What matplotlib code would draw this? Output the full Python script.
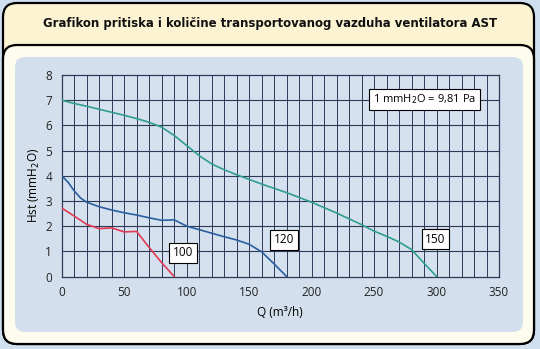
import matplotlib
matplotlib.use("Agg")
import matplotlib.pyplot as plt
from matplotlib import font_manager
from matplotlib.patches import FancyBboxPatch

# fan curves: airflow Q (m3/h) vs static pressure Hst (mmH2O)
q_100 = [0, 10, 20, 30, 40, 50, 60, 70, 80, 90]
h_100 = [2.72, 2.4, 2.07, 1.9, 1.93, 1.77, 1.79, 1.15, 0.55, 0.0]

q_120 = [0, 5, 10, 15, 20, 30, 40, 50, 60, 70, 80, 90, 100, 110, 120, 130, 140, 150, 160, 170, 180]
h_120 = [4.0, 3.75, 3.4, 3.12, 2.95, 2.77, 2.64, 2.53, 2.44, 2.33, 2.23, 2.25, 2.0, 1.86, 1.72, 1.58, 1.45, 1.28, 0.98, 0.5, 0.0]

q_150 = [0, 10, 20, 30, 40, 50, 60, 70, 80, 90, 100, 110, 120, 130, 140, 160, 180, 200, 220, 240, 250, 260, 270, 280, 290, 300]
h_150 = [7.0, 6.87, 6.76, 6.64, 6.52, 6.4, 6.27, 6.12, 5.93, 5.6, 5.2, 4.8, 4.47, 4.24, 4.04, 3.67, 3.33, 2.95, 2.52, 2.06, 1.8, 1.6, 1.37, 1.07, 0.53, 0.0]

# curve labels: (text, Q, Hst)
curve_labels = [("100", 97, 0.95), ("120", 178, 1.45), ("150", 299, 1.48)]

# narrow bold face for the title if one is installed
fonts = font_manager.fontManager.ttflist
names = {f.name for f in fonts}
title_kw = dict(family="Roboto", fontsize=9, fontweight="bold")
if "Liberation Sans Narrow" in names:
    title_kw = dict(family="Liberation Sans Narrow", fontsize=11, fontweight="bold")
elif any(f.name == "DejaVu Sans" and f.stretch == "condensed" for f in fonts):
    title_kw = dict(family="DejaVu Sans", fontsize=9.4, fontweight="bold", fontstretch="condensed")

W, H = 540, 349
fig = plt.figure(figsize=(W / 100, H / 100), dpi=100, facecolor="#cfdff0")

# background frames drawn in pixel coordinates
bg = fig.add_axes([0, 0, 1, 1])
bg.set_xlim(0, W)
bg.set_ylim(H, 0)
bg.axis("off")
bg.add_patch(FancyBboxPatch((3, 3), 531, 341, boxstyle="round,pad=0,rounding_size=14",
                            fc="#fcf3d2", ec="black", lw=1.6))
bg.add_patch(FancyBboxPatch((3, 45), 531, 299, boxstyle="round,pad=0,rounding_size=14",
                            fc="#fefbef", ec="black", lw=1.6))
bg.add_patch(FancyBboxPatch((15, 57), 508, 275, boxstyle="round,pad=0,rounding_size=10",
                            fc="#d3dfec", ec="none"))
bg.text(270, 23, "Grafikon pritiska i količine transportovanog vazduha ventilatora AST",
        ha="center", va="center", color="#111111", **title_kw)

x0, x1 = 61.7, 499.0
y8, y0 = 75.0, 276.5
ax = fig.add_axes([x0 / W, 1 - y0 / H, (x1 - x0) / W, (y0 - y8) / H])
ax.set_facecolor("#d5e1ee")
ax.set_xlim(0, 350)
ax.set_ylim(0, 8)

grid_color = "#2e3a58"
for q in range(10, 350, 10):
    ax.axvline(q, color=grid_color, lw=0.7, zorder=1)
for h in range(1, 8):
    ax.axhline(h, color=grid_color, lw=0.8, zorder=1)
for s in ax.spines.values():
    s.set_color(grid_color)
    s.set_linewidth(0.9)

ax.plot(q_150, h_150, color="#2f9e90", lw=1.2, zorder=3)
ax.plot(q_120, h_120, color="#2a5f9e", lw=1.2, zorder=3)
ax.plot(q_100, h_100, color="#e23a52", lw=1.2, zorder=3)

for txt, q, h in curve_labels:
    ax.text(q, h, txt, ha="center", va="center", fontsize=8.5, family="Open Sans", zorder=4,
            bbox=dict(boxstyle="square,pad=0.3", fc="white", ec="black", lw=0.8))

ax.text(290.5, 7.03, "1 mmH$_2$O = 9,81 Pa", ha="center", va="center", fontsize=8,
        family="Open Sans", zorder=4,
        bbox=dict(boxstyle="square,pad=0.35", fc="white", ec="black", lw=0.8))

ax.set_xticks(range(0, 351, 50))
ax.set_yticks(range(0, 9))
ax.tick_params(length=0, labelsize=8.5, pad=7, colors="#222222")
for lab in ax.get_xticklabels() + ax.get_yticklabels():
    lab.set_family("Open Sans")

ax.set_xlabel("Q (m³/h)", fontsize=8.5, family="Open Sans")
ax.set_ylabel("Hst (mmH$_2$O)", fontsize=8.5, family="Open Sans")
ax.xaxis.set_label_coords(0.5, -0.145)
ax.yaxis.set_label_coords(-0.045, 0.45)

fig.savefig("out.png", dpi=100, facecolor=fig.get_facecolor())
